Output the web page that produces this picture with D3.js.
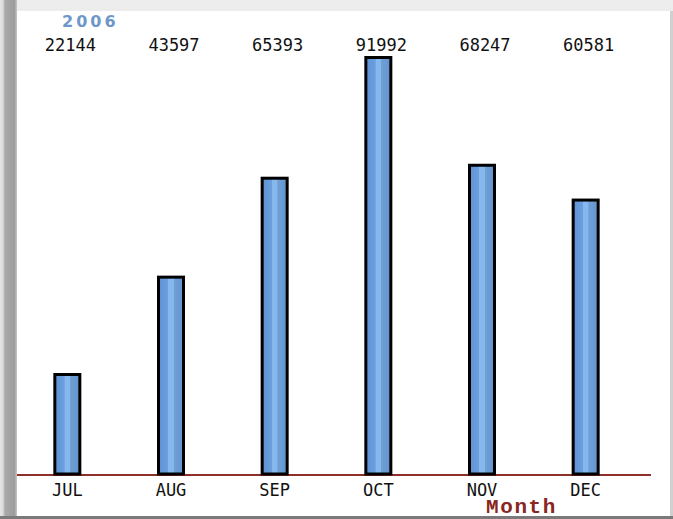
<!DOCTYPE html>
<html>
<head>
<meta charset="utf-8">
<script src="https://cdn.jsdelivr.net/npm/d3@7"></script>
<style>
  html, body { margin: 0; padding: 0; background: #fff; }
  svg { display: block; }
</style>
</head>
<body>
<script>
// Monthly totals for the second half of 2006
const months = ["JUL", "AUG", "SEP", "OCT", "NOV", "DEC"];
const totals = [22144, 43597, 65393, 91992, 68247, 60581];
const yearLabel = "2006";
const axisTitle = "Month";

const W = 673, H = 519;
const svg = d3.select("body").append("svg").attr("width", W).attr("height", H);
const defs = svg.append("defs");

// window frame gradients
const gLeft = defs.append("linearGradient").attr("id", "frameLeft").attr("x1", 0).attr("x2", 1).attr("y1", 0).attr("y2", 0);
[[0, "#e6e6e6"], [0.18, "#d8d8d8"], [0.3, "#a8a8a8"], [0.85, "#9c9c9c"], [1, "#c8c8c8"]]
  .forEach(([o, c]) => gLeft.append("stop").attr("offset", o).attr("stop-color", c));
const gTop = defs.append("linearGradient").attr("id", "frameTop").attr("x1", 0).attr("x2", 0).attr("y1", 0).attr("y2", 1);
[[0, "#ededed"], [0.5, "#dadada"], [1, "#bdbdbd"]]
  .forEach(([o, c]) => gTop.append("stop").attr("offset", o).attr("stop-color", c));

// bar fill: medium blue with a lighter centre stripe
const gBar = defs.append("linearGradient").attr("id", "barFill").attr("x1", 0).attr("x2", 1).attr("y1", 0).attr("y2", 0);
[[0, "#5f92d2"], [0.38, "#6a9fe0"], [0.4, "#86b8ee"], [0.6, "#86b8ee"], [0.62, "#6f9fd6"], [1, "#6294cc"]]
  .forEach(([o, c]) => gBar.append("stop").attr("offset", o).attr("stop-color", c));

svg.append("rect").attr("width", W).attr("height", H).attr("fill", "url(#frameTop)");
svg.append("rect").attr("x", 0).attr("y", 0).attr("width", 17).attr("height", H).attr("fill", "url(#frameLeft)");
svg.append("rect").attr("x", 670).attr("y", 11).attr("width", 3).attr("height", H).attr("fill", "#d0d0d0");
svg.append("rect").attr("x", 17).attr("y", 11).attr("width", 653).attr("height", 505).attr("fill", "#ffffff");

// scales
const x = d3.scaleBand().domain(months).range([15.5, 637.5]).padding(0);
const y = d3.scaleLinear().domain([0, d3.max(totals)]).range([475, 57.5]);
const barW = 25;

const data = months.map((m, i) => ({ m, v: totals[i] }));

// baseline
svg.append("line")
  .attr("x1", 17).attr("x2", 651)
  .attr("y1", y(0)).attr("y2", y(0))
  .attr("stroke", "#8e2f2a").attr("stroke-width", 2);

// bars
svg.append("g").selectAll("rect").data(data).join("rect")
  .attr("x", d => x(d.m) + x.bandwidth() / 2 - barW / 2)
  .attr("y", d => y(d.v))
  .attr("width", barW)
  .attr("height", d => y(0) - y(d.v) - 1)
  .attr("fill", "url(#barFill)")
  .attr("stroke", "#000")
  .attr("stroke-width", 3);

// value labels along the top
svg.append("g").selectAll("text").data(data).join("text")
  .attr("x", d => x(d.m) + x.bandwidth() / 2 + 3)
  .attr("y", 51)
  .attr("text-anchor", "middle")
  .attr("font-family", "DejaVu Sans Mono, monospace")
  .attr("font-size", 17)
  .attr("fill", "#111")
  .text(d => d.v);

// month axis
const axis = d3.axisBottom(x).tickSize(0).tickPadding(0);
const ax = svg.append("g").attr("transform", `translate(0,${y(0)})`).call(axis);
ax.select(".domain").remove();
ax.selectAll("text")
  .attr("dy", 0).attr("y", 21)
  .attr("font-family", "DejaVu Sans Mono, monospace")
  .attr("font-size", 17)
  .attr("fill", "#111");

// year heading
svg.append("text")
  .attr("x", 62).attr("y", 27)
  .attr("font-family", "DejaVu Sans, sans-serif")
  .attr("font-weight", "bold")
  .attr("font-size", 16)
  .attr("letter-spacing", 3)
  .attr("fill", "#6f97c9")
  .text(yearLabel);

// axis title
svg.append("text")
  .attr("x", 486).attr("y", 513)
  .attr("font-family", "Liberation Mono, Courier New, monospace")
  .attr("font-weight", "bold")
  .attr("font-size", 21)
  .attr("letter-spacing", 1.6)
  .attr("fill", "#8a2622")
  .text(axisTitle);

// bottom frame edge
svg.append("rect").attr("x", 0).attr("y", 516).attr("width", W).attr("height", 3).attr("fill", "#7a7a7a");
</script>
</body>
</html>
